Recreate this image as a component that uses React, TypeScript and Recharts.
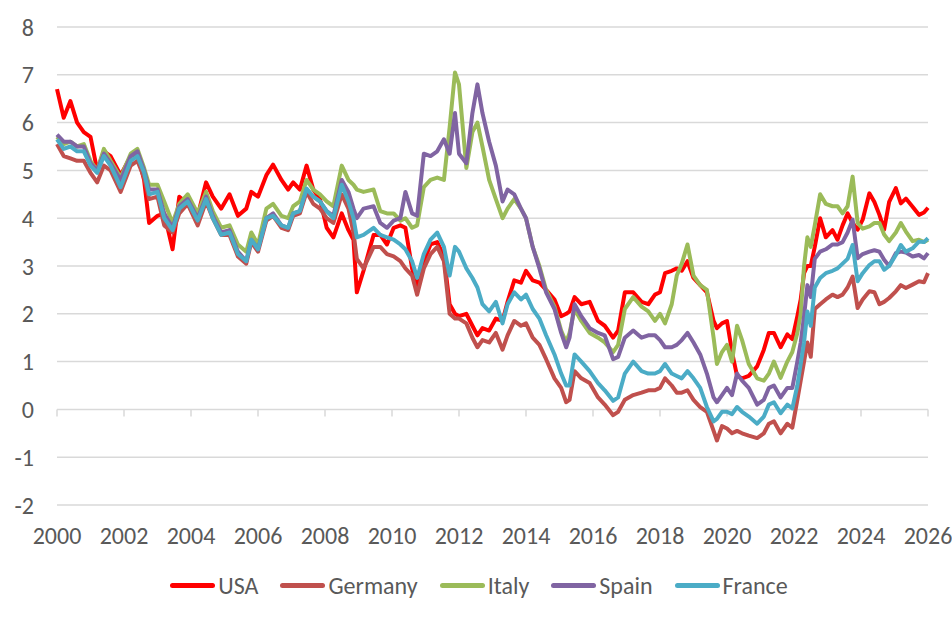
import { CartesianGrid, Legend, Line, LineChart, ReferenceLine, XAxis, YAxis } from "recharts";

const FONT = "Carlito, Calibri, 'Liberation Sans', Arial, sans-serif";
const TEXT = "#595959";
const GRID = "#d9d9d9";

const YEARS = [2000, 2002, 2004, 2006, 2008, 2010, 2012, 2014, 2016, 2018, 2020, 2022, 2024, 2026];
const Y_TICKS = [-2, -1, 0, 1, 2, 3, 4, 5, 6, 7, 8];

// decimal years of the sampled points
const DATES = [
  2000.0, 2000.2, 2000.4, 2000.6, 2000.8, 2001.0, 2001.2, 2001.4, 2001.6, 2001.9,
  2002.2, 2002.4, 2002.6, 2002.75, 2003.0, 2003.2, 2003.45, 2003.65, 2003.9, 2004.2,
  2004.45, 2004.65, 2004.9, 2005.15, 2005.4, 2005.65, 2005.8, 2006.0, 2006.25, 2006.45,
  2006.7, 2006.9, 2007.05, 2007.25, 2007.45, 2007.65, 2007.85, 2008.05, 2008.25, 2008.5,
  2008.7, 2008.85, 2008.95, 2009.15, 2009.45, 2009.65, 2009.85, 2010.05, 2010.25, 2010.4,
  2010.6, 2010.75, 2010.95, 2011.15, 2011.35, 2011.55, 2011.72, 2011.88, 2012.0, 2012.22,
  2012.4, 2012.55, 2012.7, 2012.9, 2013.1, 2013.3, 2013.45, 2013.65, 2013.85, 2014.0,
  2014.2, 2014.4, 2014.6, 2014.85, 2015.05, 2015.2, 2015.3, 2015.45, 2015.65, 2015.9,
  2016.15, 2016.35, 2016.6, 2016.75, 2016.95, 2017.2, 2017.45, 2017.65, 2017.85, 2018.0,
  2018.15, 2018.35, 2018.5, 2018.65, 2018.82, 2019.0, 2019.2, 2019.4, 2019.6, 2019.7,
  2019.85, 2020.0, 2020.15, 2020.3, 2020.45, 2020.65, 2020.9, 2021.1, 2021.25, 2021.4,
  2021.6, 2021.8, 2021.95, 2022.1, 2022.2, 2022.3, 2022.4, 2022.5, 2022.62, 2022.78,
  2022.95, 2023.15, 2023.3, 2023.45, 2023.6, 2023.75, 2023.9, 2024.05, 2024.25, 2024.4,
  2024.55, 2024.69, 2024.84, 2025.04, 2025.19, 2025.34, 2025.54, 2025.73, 2025.88, 2026.0,
];

const USA = [
  6.7, 6.1, 6.45, 6.0, 5.8, 5.7, 5.0, 5.4, 5.3, 4.9,
  5.3, 5.35, 4.8, 3.9, 4.05, 4.1, 3.35, 4.45, 4.3, 4.05,
  4.75, 4.45, 4.2, 4.5, 4.05, 4.2, 4.55, 4.45, 4.9, 5.12,
  4.8, 4.6, 4.75, 4.6, 5.1, 4.6, 4.4, 3.8, 3.6, 4.1,
  3.75, 3.55, 2.45, 2.9, 3.65, 3.65, 3.45, 3.8, 3.85, 3.8,
  2.95, 2.55, 3.1, 3.45, 3.5, 3.2, 2.2, 2.0, 1.95, 2.0,
  1.75, 1.55, 1.7, 1.65, 1.9, 1.85, 2.25, 2.7, 2.65, 2.9,
  2.7, 2.65, 2.5, 2.3, 1.95, 2.0, 2.05, 2.35, 2.2, 2.25,
  1.85, 1.75, 1.5, 1.65, 2.45, 2.45, 2.25, 2.2, 2.4, 2.45,
  2.85, 2.9, 2.95, 2.9, 3.1, 2.75, 2.6, 2.45, 1.85, 1.7,
  1.8, 1.85, 1.2, 0.7, 0.65, 0.7, 0.9, 1.25, 1.6, 1.6,
  1.3, 1.57, 1.47, 1.95, 2.3, 2.85, 3.0, 3.0, 3.4, 4.0,
  3.6, 3.75, 3.55, 3.85, 4.1, 3.9, 3.76, 3.97, 4.52, 4.34,
  4.07, 3.76, 4.34, 4.63, 4.31, 4.41, 4.24, 4.07, 4.12, 4.22,
];

const GERMANY = [
  5.55, 5.3, 5.25, 5.2, 5.2, 4.95, 4.75, 5.1, 5.0, 4.55,
  5.1, 5.2, 4.85, 4.4, 4.45, 3.85, 3.7, 4.1, 4.3, 3.85,
  4.35, 4.0, 3.65, 3.65, 3.2, 3.05, 3.5, 3.3, 3.95, 4.05,
  3.8, 3.75, 4.05, 4.1, 4.55, 4.3, 4.2, 4.0, 3.9, 4.5,
  4.2, 3.7, 3.15, 2.95, 3.4, 3.4, 3.25, 3.2, 3.1, 2.95,
  2.8, 2.4, 2.95, 3.25, 3.4, 3.1, 2.0, 1.9, 1.9, 1.8,
  1.5, 1.3, 1.45, 1.4, 1.6, 1.25, 1.55, 1.85, 1.75, 1.8,
  1.5, 1.35, 1.05, 0.65, 0.45, 0.15, 0.2, 0.8, 0.65, 0.55,
  0.25, 0.1, -0.12, -0.05, 0.2, 0.3, 0.35, 0.4, 0.4, 0.45,
  0.65, 0.5, 0.35, 0.35, 0.4, 0.2, 0.05, -0.05, -0.45, -0.65,
  -0.35, -0.4, -0.5, -0.45, -0.5, -0.55, -0.6, -0.5, -0.3, -0.25,
  -0.5, -0.3, -0.38, 0.2, 0.6, 1.0, 1.4, 1.1, 2.1, 2.2,
  2.3, 2.4, 2.35, 2.4, 2.55, 2.78, 2.12, 2.3, 2.47, 2.45,
  2.2, 2.25, 2.33, 2.47, 2.6, 2.54, 2.61, 2.68, 2.66, 2.85,
];

const ITALY = [
  5.7, 5.55, 5.6, 5.5, 5.55, 5.2, 5.0, 5.45, 5.2, 4.85,
  5.35, 5.45, 5.05, 4.7, 4.7, 4.35, 3.9, 4.3, 4.5, 4.1,
  4.55, 4.15, 3.8, 3.85, 3.45, 3.3, 3.7, 3.45, 4.2, 4.3,
  4.05, 4.0, 4.25, 4.35, 4.8, 4.6, 4.5, 4.35, 4.25, 5.1,
  4.8, 4.7, 4.6, 4.55, 4.6, 4.15, 4.1, 4.1, 3.95, 4.0,
  3.8, 3.85, 4.65, 4.8, 4.85, 4.8, 5.9, 7.05, 6.8, 5.05,
  5.8, 6.0, 5.5, 4.8, 4.4, 4.0, 4.2, 4.4, 4.2, 4.0,
  3.4, 3.0, 2.5, 2.15, 1.65, 1.4, 1.6, 2.1, 1.85, 1.6,
  1.5, 1.4, 1.2, 1.35, 2.1, 2.35, 2.15, 2.05, 1.85, 2.0,
  1.8, 2.2, 2.8, 3.05, 3.45, 2.8, 2.6, 2.5, 1.5, 0.95,
  1.2, 1.35, 1.0, 1.75, 1.45, 0.95, 0.65, 0.6, 0.75, 1.0,
  0.66, 1.0, 1.2, 1.6, 2.0, 3.0, 3.6, 3.4, 3.85, 4.5,
  4.3, 4.25, 4.25, 4.1, 4.25, 4.87, 3.9, 3.78, 3.83, 3.9,
  3.9, 3.66, 3.52, 3.7, 3.9, 3.72, 3.52, 3.55, 3.5, 3.55,
];

const SPAIN = [
  5.75, 5.6, 5.6, 5.5, 5.5, 5.15, 5.0, 5.35, 5.15, 4.8,
  5.3, 5.4, 5.0, 4.6, 4.6, 4.1, 3.8, 4.25, 4.4, 4.0,
  4.45, 4.05, 3.7, 3.75, 3.3, 3.1, 3.55, 3.35, 4.0, 4.1,
  3.85, 3.8, 4.1, 4.15, 4.6, 4.45, 4.35, 4.15, 4.05, 4.8,
  4.55, 4.2, 4.0, 4.2, 4.25, 3.9, 3.8, 3.95, 4.0, 4.55,
  4.1, 4.05, 5.35, 5.3, 5.4, 5.65, 5.35, 6.2, 5.35, 5.15,
  6.2, 6.8, 6.2, 5.6, 5.1, 4.35, 4.6, 4.5, 4.2, 4.0,
  3.4, 2.95, 2.45, 2.1, 1.6, 1.3, 1.5, 2.2, 1.95, 1.7,
  1.6, 1.55, 1.05, 1.1, 1.5, 1.65, 1.5, 1.55, 1.55, 1.45,
  1.3, 1.3, 1.35, 1.45, 1.6, 1.4, 1.15, 0.75, 0.25, 0.15,
  0.3, 0.45, 0.3, 0.75, 0.6, 0.45, 0.1, 0.2, 0.45, 0.5,
  0.25, 0.45, 0.45, 1.0, 1.4, 1.95, 2.6, 2.35, 3.15, 3.3,
  3.35, 3.45, 3.45, 3.5, 3.7, 3.97, 3.16, 3.25, 3.3, 3.33,
  3.3, 3.13, 3.0, 3.27, 3.3, 3.28, 3.2, 3.23, 3.16, 3.27,
];

const FRANCE = [
  5.65, 5.45, 5.5, 5.4, 5.4, 5.1, 4.95, 5.3, 5.1, 4.65,
  5.2, 5.3, 4.95, 4.5, 4.55, 4.0, 3.75, 4.2, 4.35, 3.95,
  4.4, 4.0, 3.65, 3.7, 3.25, 3.1, 3.55, 3.35, 4.0, 4.05,
  3.85, 3.8, 4.1, 4.15, 4.62, 4.45, 4.35, 4.15, 4.0, 4.7,
  4.35, 4.0, 3.6, 3.65, 3.8, 3.65, 3.6, 3.55, 3.45, 3.35,
  3.1, 2.75, 3.25, 3.55, 3.7, 3.4, 2.8, 3.4, 3.3, 2.95,
  2.75, 2.55, 2.2, 2.05, 2.25, 1.8, 2.2, 2.45, 2.3, 2.4,
  2.1, 1.9, 1.55, 1.15, 0.75, 0.5, 0.5, 1.15, 1.0, 0.8,
  0.55, 0.4, 0.18, 0.25, 0.75, 1.0, 0.8, 0.75, 0.75, 0.8,
  0.95, 0.75, 0.7, 0.65, 0.8, 0.65, 0.45, 0.05, -0.25, -0.2,
  -0.05, -0.05, -0.1, 0.05, -0.05, -0.15, -0.3, -0.15, 0.1, 0.15,
  -0.08, 0.1, 0.02, 0.5, 0.95, 1.4, 2.05, 1.75, 2.55, 2.75,
  2.85, 2.9, 2.95, 3.05, 3.15, 3.44, 2.68, 2.85, 3.02, 3.1,
  3.1, 2.92, 3.0, 3.23, 3.44, 3.3, 3.37, 3.51, 3.5, 3.58,
];

const SERIES = [
  { key: "usa", name: "USA", color: "#ff0000", values: USA },
  { key: "germany", name: "Germany", color: "#c0504d", values: GERMANY },
  { key: "italy", name: "Italy", color: "#9bbb59", values: ITALY },
  { key: "spain", name: "Spain", color: "#8064a2", values: SPAIN },
  { key: "france", name: "France", color: "#4bacc6", values: FRANCE },
];

const data = DATES.map((t, i) => {
  const row: Record<string, number> = { t };
  SERIES.forEach((s) => {
    row[s.key] = s.values[i];
  });
  return row;
});

function LegendRow() {
  return (
    <div
      style={{
        display: "flex",
        justifyContent: "center",
        alignItems: "center",
        gap: 22,
        fontFamily: FONT,
        fontSize: 24,
        color: TEXT,
        height: 30,
        paddingLeft: 30,
      }}
    >
      {SERIES.map((s) => (
        <span key={s.key} style={{ display: "flex", alignItems: "center" }}>
          <span
            style={{
              display: "inline-block",
              width: 45,
              height: 5,
              borderRadius: 3,
              background: s.color,
              marginRight: 3,
            }}
          />
          {s.name}
        </span>
      ))}
    </div>
  );
}

export default function App() {
  const tick = { fontFamily: FONT, fontSize: 24, fill: TEXT };
  return (
    <div style={{ position: "absolute", left: 0, top: 0, background: "#fff" }}>
      <LineChart width={952} height={620} data={data} margin={{ top: 27, right: 24, bottom: 20, left: 0 }}>
        <CartesianGrid vertical={false} stroke={GRID} strokeWidth={1.5} />
        <XAxis
          dataKey="t"
          type="number"
          domain={[2000, 2026]}
          ticks={YEARS}
          axisLine={false}
          tickLine={false}
          tickSize={0}
          tickMargin={22}
          height={65}
          tick={tick}
          interval={0}
        />
        <YAxis
          domain={[-2, 8]}
          ticks={Y_TICKS}
          axisLine={false}
          tickLine={false}
          tickSize={0}
          tickMargin={23}
          width={57}
          tick={tick}
          interval={0}
        />
        {YEARS.map((yr) => (
          <ReferenceLine
            key={yr}
            segment={[
              { x: yr, y: 0 },
              { x: yr, y: -0.15 },
            ]}
            stroke={GRID}
            strokeWidth={1.5}
          />
        ))}
        <Legend verticalAlign="bottom" height={30} content={() => <LegendRow />} />
        {SERIES.map((s) => (
          <Line
            key={s.key}
            type="linear"
            dataKey={s.key}
            name={s.name}
            stroke={s.color}
            strokeWidth={4}
            strokeLinejoin="round"
            dot={false}
            activeDot={false}
            isAnimationActive={false}
          />
        ))}
      </LineChart>
    </div>
  );
}
